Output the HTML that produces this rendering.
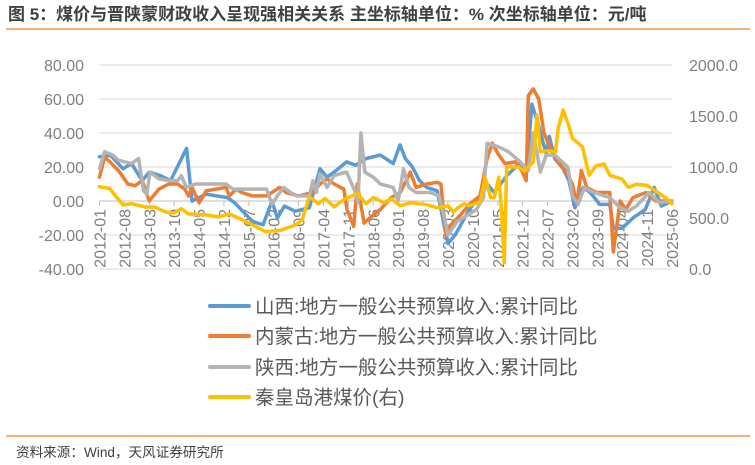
<!DOCTYPE html>
<html><head><meta charset="utf-8"><style>
body{margin:0;width:755px;height:465px;background:#fff;overflow:hidden;font-family:"Liberation Sans","Noto Sans CJK SC",sans-serif}
svg{position:absolute;left:0;top:0}
</style></head><body>
<svg width="755" height="465">
<text x="8" y="20" font-size="17" font-weight="bold" fill="#404040" font-family="Liberation Sans,Noto Sans CJK SC,sans-serif">图 5：煤价与晋陕蒙财政收入呈现强相关关系 主坐标轴单位：% 次坐标轴单位：元/吨</text>
<line x1="6" y1="29" x2="750" y2="29" stroke="#f39a4a" stroke-width="1.5"/>
<g id="grid"></g>
<g id="yl"></g>
<g id="yr"></g>
<g id="xl"></g>
<g id="series"></g>
<g font-size="19.5" fill="#595959" font-family="Liberation Sans,Noto Sans CJK SC,sans-serif">
<g><line x1="210" y1="306" x2="249" y2="306" stroke="#5b9bd5" stroke-width="4" stroke-linecap="round"/><text x="255" y="313">山西:地方一般公共预算收入:累计同比</text></g>
<g><line x1="210" y1="336" x2="249" y2="336" stroke="#ed7d31" stroke-width="4" stroke-linecap="round"/><text x="255" y="343">内蒙古:地方一般公共预算收入:累计同比</text></g>
<g><line x1="210" y1="367" x2="249" y2="367" stroke="#b4b4b4" stroke-width="4" stroke-linecap="round"/><text x="255" y="374">陕西:地方一般公共预算收入:累计同比</text></g>
<g><line x1="210" y1="397" x2="249" y2="397" stroke="#ffc000" stroke-width="4" stroke-linecap="round"/><text x="255" y="404">秦皇岛港煤价(右)</text></g>
</g>
<line x1="6" y1="436" x2="750" y2="436" stroke="#f39a4a" stroke-width="1.5"/>
<text x="16" y="457" font-size="13.6" fill="#404040" font-family="Liberation Sans,Noto Sans CJK SC,sans-serif">资料来源：Wind，天风证券研究所</text>
</svg>
<script>
const leftTicks=[80,60,40,20,0,-20,-40];
const rightTicks=[2000,1500,1000,500,0];
const xLabels=["2012-01","2012-08","2013-03","2013-10","2014-05","2014-12","2015-07","2016-02","2016-09","2017-04","2017-11","2018-06","2019-01","2019-08","2020-03","2020-10","2021-05","2021-12","2022-07","2023-02","2023-09","2024-04","2024-11","2025-06"];
const shanxiM=[0,3,6.6,9,12,14,17,20,24.5,26,30,36,38,43,46,48.5,50,52,55,59,62,64,66,69.5,72,75,79,82.6,84.5,86,88,90,92,95,97,98,100,104,107,109,111,114.6,118,120,121.6,123.5,125.6,126.5,128,130.4,132,133.7,136,138,140.7,143.5,144.5,147,150,153.5,156,158,161];
const shanxiV=[26,27,19,22,12,17,15,12,31,0,4,2,-1,-12,-14,0,-10,-3,-6,-4,19,14,17,23,21,25,27,22,33,25,20,12,8,6,-15,-25,-20,-5,3,10,5,15,22,15,57,44,28,38,25,19,12,-4,8,5,-2,-2,-16,-16,-10,-5,8,-3,0];
const nmgM=[0,1.5,5.3,8,10,12,14,16.7,19.5,22,24,25,26,28,30,35.6,36.5,38.5,40,43,47,50.7,52.5,56,60,62,64,66,68.7,69.6,71.5,72.5,74.4,76,79,82,84.6,87.4,89,92,95,96,97.4,98.8,101.6,104,107,109,110.5,112,114,116.9,118.7,120,120.6,122,123.5,125,127,129,131,133,134.2,135.5,137,139.8,143.5,144.5,146.4,148,150,153.7,156.5,161];
const nmgV=[14,26,18,10,9,12,0,7,10,10,7,3,8,-1,6,8,3,7,5,3,3,8,5,3,5,10,13,10,7,-5,-15,10,-13,-10,-5,2,5,17,8,10,11,10,-20,-14,-8,-2,3,25,34,28,22,23,18,12,62,66,60,40,30,23,18,10,-2,18,8,5,5,-30,0,-5,2,5,0,0];
const sxM=[0,1.4,3.7,5.3,9,11,12.4,13.3,14.2,16.7,19.5,22,23,24.4,27,35.6,37.5,41,47,48.5,50,51.8,53.7,55.6,59,60,61,62,64,66,69.5,72,72.7,73.5,74.6,77,79,82.6,84,85.5,87,89,93,95.5,97,98,100.6,106,108,109,112,115,117.8,120.6,122,124,125.6,128,131.7,133,134.6,136.4,139,143.5,146.4,148.7,151,154.6,157.5,161];
const sxV=[19,29,27,24,22,25,6,4,17,13,12,12,15,8,10,10,7,7,7,-2,3,8,5,3,3,12,5,16,8,15,17,5,-1,40,17,14,10,8,0,19,8,5,5,3,-10,-20,-12,-5,2,34,32,29,24,18,40,17,27,27,20,3,-2,8,5,2,-4,-6,-3,5,-1,0];
const coalM=[0,2.8,6.6,9,13,15.6,18.5,21,23,25,30,33.5,36.5,39,42.6,46.7,51,55,57,59,61.5,63.4,66,68.7,72.5,75,77,80,82,84.6,87.4,92,95,98,99.5,100.8,102.5,104,107,108.5,110,111,112.3,113,113.8,114.5,117.8,119.6,122,123,124,126,128.2,129,130.4,132,133,135.8,137.7,139.6,141.9,143.5,147,148.7,151,154,156.6,159.5,161];
const coalV=[807,790,627,640,607,607,560,549,590,540,530,510,540,500,440,366,380,430,480,709,640,690,610,680,740,640,700,650,690,620,650,630,600,620,560,600,640,620,660,892,700,700,900,600,60,1000,1000,960,1050,1510,1150,1160,1150,1380,1560,1400,1280,1200,920,1010,1030,920,880,800,830,820,760,690,640];

const NS="http://www.w3.org/2000/svg";
const X0=99.5,X1=672,Y0=201;
const xs=m=>X0+m*(X1-X0)/161;
const yl=v=>Y0-v*1.7;
const yr=p=>269-p*0.102;
function mk(tag,attrs,parent){const e=document.createElementNS(NS,tag);for(const k in attrs)e.setAttribute(k,attrs[k]);parent.appendChild(e);return e;}
const grid=document.getElementById('grid'),gl=document.getElementById('yl'),gr=document.getElementById('yr'),gx=document.getElementById('xl'),gs=document.getElementById('series');
leftTicks.forEach(v=>{
  const ln=mk('line',{x1:X0,x2:X1,y1:yl(v),y2:yl(v),stroke:v===0?'#bfbfbf':'#d9d9d9','stroke-width':1},grid);
  
  
  const t=mk('text',{x:84,y:yl(v)+6,'text-anchor':'end','font-size':16,fill:'#7f7f7f'},gl);
  t.textContent=v.toFixed(2);
  
  
});
rightTicks.forEach(p=>{
  const t=mk('text',{x:689,y:yr(p)+6,'font-size':16,fill:'#7f7f7f'},gr);
  t.textContent=p.toFixed(1);
  
  
});
xLabels.forEach((s,i)=>{
  const x=X0+i*(X1-X0)/(xLabels.length-1);
  const tk=mk('line',{x1:x,x2:x,y1:Y0,y2:Y0+5,stroke:'#bfbfbf'},gx);
  
  
  const t=mk('text',{x:0,y:0,'text-anchor':'end','font-size':16,fill:'#7f7f7f',transform:`translate(${x+6},209) rotate(-90)`},gx);
  t.textContent=s;
  
  
});
function line(M,V,f,col,name){
  const d=M.map((m,i)=>(i?'L':'M')+xs(m).toFixed(1)+','+f(V[i]).toFixed(1)).join('');
  const p=mk('path',{d:d,fill:'none',stroke:col,'stroke-width':3.5,'stroke-linejoin':'round','stroke-linecap':'round'},gs);
  
  
}
line(shanxiM,shanxiV,yl,'#5b9bd5','line-shanxi');
line(nmgM,nmgV,yl,'#ed7d31','line-neimenggu');
line(sxM,sxV,yl,'#b4b4b4','line-shaanxi');
line(coalM,coalV,yr,'#ffc000','line-coal-price');
</script>
</body></html>
